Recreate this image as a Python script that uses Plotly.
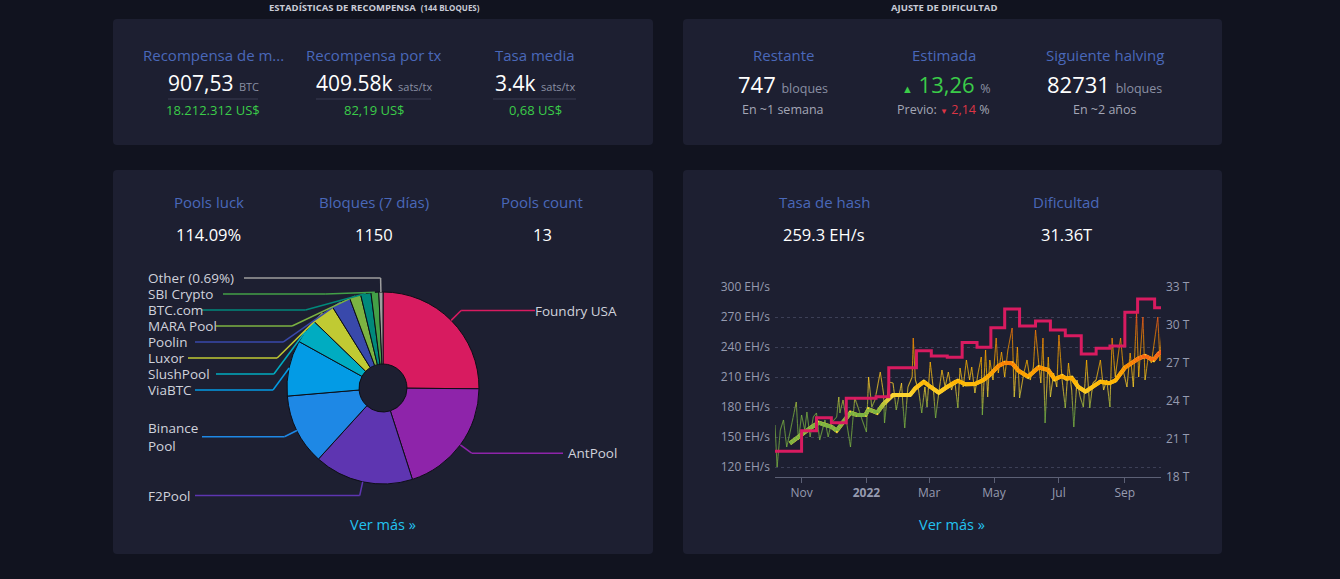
import math
import pandas as pd
import plotly.graph_objects as go

W, H = 1340, 579
FONT = "Open Sans"

# ---------------- data ----------------
reward_titles = ["Recompensa de m...", "Recompensa por tx", "Tasa media"]
reward_values = ["907,53", "409.58k", "3.4k"]
reward_units = ["BTC", "sats/tx", "sats/tx"]
reward_fiat = ["18.212.312 US$", "82,19 US$", "0,68 US$"]

adj_titles = ["Restante", "Estimada", "Siguiente halving"]
adj_remaining = "747"
adj_estimated = "13,26"
adj_previous = "2,14"
adj_halving = "82731"
adj_remaining_eta = "En ~1 semana"
adj_halving_eta = "En ~2 años"

pool_stat_titles = ["Pools luck", "Bloques (7 días)", "Pools count"]
pool_stat_values = ["114.09%", "1150", "13"]

hash_stat_titles = ["Tasa de hash", "Dificultad"]
hash_stat_values = ["259.3 EH/s", "31.36T"]

pool_names = ["Foundry USA", "AntPool", "F2Pool", "Binance<br>Pool", "ViaBTC", "SlushPool",
              "Luxor", "Poolin", "MARA Pool", "BTC.com", "SBI Crypto", "Other (0.69%)"]
pool_blocks = [289, 229, 192, 137, 108, 48, 45, 37, 22, 20, 15, 8]
pool_colors = ["#D81B60", "#8E24AA", "#5E35B1", "#1E88E5", "#039BE5", "#00ACC1",
               "#C0CA33", "#3949AB", "#7CB342", "#00897B", "#43A047", "#9E9E9E"]

hash_start = "2021-10-07"
hash_day = [0, 2, 5, 8, 11, 14, 20, 22, 25, 28, 30, 33, 36, 39, 42, 47, 50, 53, 58, 60, 61, 64, 67, 71,
            75, 78, 82, 86, 88, 91, 94, 99, 102, 103, 107, 111, 114, 119, 120, 122, 125, 129, 130, 132,
            135, 138, 141, 143, 146, 149, 151, 154, 157, 160, 163, 166, 169, 172, 174, 177, 180, 183,
            185, 188, 191, 194, 195, 198, 200, 202, 205, 208, 210, 213, 216, 219, 223, 225, 228, 230,
            234, 237, 240, 243, 245, 248, 250, 252, 254, 257, 259, 262, 265, 267, 270, 273, 276, 279,
            281, 284, 287, 290, 293, 296, 299, 302, 306, 309, 312, 315, 317, 320, 323, 325, 328, 331,
            334, 337, 340, 342, 346, 348, 351, 354, 357, 360, 362, 364]
hash_ehs = [162, 120, 157, 167, 140, 154, 185, 147, 172, 157, 175, 150, 170, 174, 147, 167, 150, 164,
            170, 190, 174, 187, 167, 140, 189, 180, 167, 155, 210, 180, 187, 215, 194, 164, 205, 204,
            177, 204, 187, 159, 200, 210, 249, 207, 197, 174, 200, 180, 225, 197, 169, 194, 217, 200,
            215, 197, 207, 179, 219, 200, 227, 207, 220, 194, 214, 230, 172, 237, 190, 227, 207, 249,
            214, 235, 210, 237, 259, 190, 240, 189, 214, 227, 207, 220, 257, 224, 204, 249, 164, 230,
            190, 214, 200, 252, 207, 179, 224, 197, 160, 207, 190, 180, 227, 179, 204, 207, 227, 197,
            207, 180, 249, 210, 234, 249, 214, 200, 234, 200, 274, 210, 270, 207, 230, 224, 247, 270,
            226, 259.3]

ma_day = [14, 27, 35, 41, 47, 53, 58, 64, 71, 77, 85, 88, 96, 102, 111, 118, 127, 132, 140, 146, 154,
          160, 168, 172, 179, 188, 196, 202, 210, 216, 223, 229, 238, 248, 257, 263, 270, 274, 279, 285,
          292, 298, 306, 314, 320, 329, 336, 342, 348, 356, 361, 364]
ma_ehs = [143.7, 154.3, 160.3, 164.3, 162, 160.3, 156.3, 165.3, 174.3, 172, 172, 177.7, 174.3, 183,
          192, 192, 192, 198.7, 205.3, 200.3, 194.3, 198.7, 204.3, 206.3, 202.7, 203, 207, 212, 221,
          224.3, 223.7, 216.3, 210.3, 219.7, 217, 207.7, 211, 208.3, 209.3, 200.3, 195.3, 199.7, 205.3,
          203.7, 206.3, 219.3, 224.3, 228.7, 231, 227, 233.7, 235.3]

diff_day = [0, 25, 39, 53, 67, 95, 107, 133, 147, 162, 176, 190, 203, 216, 230, 245, 259, 273, 288,
            302, 315, 329, 341, 357, 363]
diff_t = [20.03, 21.66, 22.68, 22.29, 24.21, 24.34, 26.63, 27.97, 27.55, 27.45, 28.61, 28.24, 29.79,
          31.26, 29.92, 30.32, 29.61, 29.16, 27.71, 28.16, 28.34, 31.0, 32.05, 31.37, 31.37]

x_tick_dates = ["2021-11-01", "2022-01-01", "2022-03-01", "2022-05-01", "2022-07-01", "2022-09-01"]
x_tick_text = ["Nov", "<b>2022</b>", "Mar", "May", "Jul", "Sep"]
left_ticks = [120, 150, 180, 210, 240, 270, 300]
right_ticks = [18, 21, 24, 27, 30, 33]

# ---------------- styles ----------------
PAGE_BG = "#11131f"
CARD_BG = "#1d1f31"
BLUE = "#4a68b9"
GREEN = "#3bcc49"
RED = "#dc3545"
GRAY = "#8a8fa3"
LGRAY = "#a3a6b5"
LINK = "#23c3f0"
AXIS_GRAY = "#969bb0"


def px(x):
    return x / W


def py(y):
    return 1 - y / H


annotations = []
shapes = []


def text(x, y, s, size, color, anchor="center", align="center", pad=1):
    annotations.append(dict(x=px(x), y=py(y), xref="paper", yref="paper", text=s, showarrow=False,
                            font=dict(family=FONT, size=size, color=color), xanchor=anchor,
                            yanchor="middle", align=align, borderpad=pad))


def card(x0, y0, x1, y1, r=4):
    rx, ry = r / W, r / H
    X0, X1, Y0, Y1 = px(x0), px(x1), py(y1), py(y0)
    path = (f"M{X0+rx},{Y0} L{X1-rx},{Y0} Q{X1},{Y0} {X1},{Y0+ry} L{X1},{Y1-ry} Q{X1},{Y1} {X1-rx},{Y1} "
            f"L{X0+rx},{Y1} Q{X0},{Y1} {X0},{Y1-ry} L{X0},{Y0+ry} Q{X0},{Y0} {X0+rx},{Y0} Z")
    shapes.append(dict(type="path", path=path, xref="paper", yref="paper", fillcolor=CARD_BG,
                       line=dict(width=0), layer="below"))


def hline(x0, x1, y, color, width=1):
    shapes.append(dict(type="line", xref="paper", yref="paper", x0=px(x0), x1=px(x1), y0=py(y), y1=py(y),
                       line=dict(color=color, width=width)))


def seg(p, q, color, width=1.5):
    shapes.append(dict(type="line", xref="paper", yref="paper", x0=px(p[0]), y0=py(p[1]), x1=px(q[0]),
                       y1=py(q[1]), line=dict(color=color, width=width)))


# cards
card(113, 19, 653, 145)
card(683, 19, 1222, 145)
card(113, 170, 653, 554)
card(683, 170, 1222, 554)

# headers
text(374, 8, "<b>ESTADÍSTICAS DE RECOMPENSA</b>  <b><span style='font-size:8px'>(144 BLOQUES)</span></b>", 9.5, "#c9cbd6")
text(944, 8, "<b>AJUSTE DE DIFICULTAD</b>", 9.5, "#c9cbd6")

# reward card
reward_cx = [213, 374, 535]
reward_line = [(168, 258), (316, 431), (493, 576)]
for i in range(3):
    cx = reward_cx[i]
    text(cx, 55, reward_titles[i], 15, BLUE)
    text(cx, 83, f"{reward_values[i]} <span style='font-size:11px;color:{GRAY}'>{reward_units[i]}</span>", 21, "#ffffff")
    hline(reward_line[i][0], reward_line[i][1], 99, "#3a3d52")
    text(cx, 110.5, reward_fiat[i], 13, GREEN)

# difficulty adjustment card
adj_cx = [783, 944, 1104.5]
for i in range(3):
    text(adj_cx[i], 55, adj_titles[i], 15, BLUE)
text(783, 84, f"{adj_remaining} <span style='font-size:12.5px;color:{GRAY}'>bloques</span>", 22, "#ffffff")
text(783, 110, adj_remaining_eta, 12.5, LGRAY)
text(946, 84, f"<span style='font-size:11px'>▲</span> {adj_estimated} <span style='font-size:12.5px;color:{GRAY}'>%</span>", 22, GREEN)
text(944, 110, f"Previo: <span style='font-size:8px;color:{RED}'>▼</span> <span style='color:{RED}'>{adj_previous}</span> %", 12.5, LGRAY)
text(1104.5, 84, f"{adj_halving} <span style='font-size:12.5px;color:{GRAY}'>bloques</span>", 22, "#ffffff")
text(1104.5, 110, adj_halving_eta, 12.5, LGRAY)

# pools card stats
pool_cx = [208.5, 374, 542]
for i in range(3):
    text(pool_cx[i], 201.5, pool_stat_titles[i], 15, BLUE)
    text(pool_cx[i], 235, pool_stat_values[i], 16.5, "#ffffff")
text(383, 524, "Ver más »", 14.5, LINK)

# hash card stats
hash_cx = [824, 1066]
for i in range(2):
    text(hash_cx[i], 201.5, hash_stat_titles[i], 15, BLUE)
    text(hash_cx[i], 235, hash_stat_values[i], 16.5, "#ffffff")
text(952, 524, "Ver más »", 14.5, LINK)

fig = go.Figure()

# ---------------- pie ----------------
PCX, PCY, PR = 383, 388, 96
fig.add_trace(go.Pie(values=pool_blocks, labels=pool_names, sort=False, direction="clockwise",
                     rotation=0, hole=0.25, textinfo="none", hoverinfo="skip", showlegend=False,
                     marker=dict(colors=pool_colors, line=dict(color="#0d0e16", width=1)),
                     domain=dict(x=[px(PCX - PR), px(PCX + PR)], y=[py(PCY + PR), py(PCY - PR)])))

# leader lines + labels (ECharts-like layout computed from slice angles)
total = float(sum(pool_blocks))
R2 = PR + 14
items = []
acc = 0.0
for name, val, col in zip(pool_names, pool_blocks, pool_colors):
    a0 = acc / total * 2 * math.pi
    acc += val
    a1 = acc / total * 2 * math.pi
    th = (a0 + a1) / 2
    p1 = (PCX + PR * math.sin(th), PCY - PR * math.cos(th))
    p2 = (PCX + R2 * math.sin(th), PCY - R2 * math.cos(th))
    nlines = name.count("<br>") + 1
    items.append(dict(name=name, col=col, p1=p1, p2=p2, left=math.sin(th) < 0, n=nlines, y=p2[1]))

LH = 16
for side in (True, False):
    lst = sorted([it for it in items if it["left"] == side], key=lambda it: it["y"])
    prev_bottom = -1e9
    for it in lst:
        half = it["n"] * LH / 2
        it["y"] = max(it["y"], prev_bottom + half)
        prev_bottom = it["y"] + half

LABEL_SIZE = 13.5
CHAR_W = 7.0
for it in items:
    y = it["y"]
    dy = y - PCY
    dx = math.sqrt(max(R2 * R2 - dy * dy, 0.0))
    longest = max(len(s) for s in it["name"].split("<br>"))
    wtxt = longest * CHAR_W
    if it["left"]:
        p2 = (min(it["p2"][0], PCX - dx), y) if abs(y - it["p2"][1]) > 0.5 else it["p2"]
        x_lab = 147
        seg((x_lab + wtxt + 6, y), p2, it["col"])
        seg(p2, it["p1"], it["col"])
        text(x_lab, y, it["name"], LABEL_SIZE, "#d0d2dc", anchor="left", align="left", pad=0)
    else:
        p2 = it["p2"]
        x_lab = 618
        seg(p2, (x_lab - wtxt - 6, y), it["col"])
        seg(p2, it["p1"], it["col"])
        text(x_lab, y, it["name"], LABEL_SIZE, "#d0d2dc", anchor="right", align="right", pad=0)

# ---------------- hashrate chart ----------------
start = pd.Timestamp(hash_start)


def to_date(d):
    return start + pd.Timedelta(days=d)


STOPS = [(0.0, (244, 81, 30)), (0.25, (251, 140, 0)), (0.5, (255, 179, 0)),
         (0.75, (253, 216, 53)), (1.0, (124, 179, 66))]


def grad(v, vmin, vmax):
    t = (vmax - v) / ((vmax - vmin) * 0.65)
    t = min(max(t, 0.0), 1.0)
    for (o0, c0), (o1, c1) in zip(STOPS[:-1], STOPS[1:]):
        if t <= o1:
            f = (t - o0) / (o1 - o0)
            return tuple(c0[k] + (c1[k] - c0[k]) * f for k in range(3)), t
    return STOPS[-1][1], 1.0


def gradient_traces(days, vals, width, alpha, nbins=40, step=5.0):
    vmin, vmax = min(vals), max(vals)
    bins = {}
    for i in range(len(days) - 1):
        d0, d1, v0, v1 = days[i], days[i + 1], vals[i], vals[i + 1]
        n = max(1, int(math.ceil(abs(v1 - v0) / step)))
        for k in range(n):
            fa, fb = k / n, (k + 1) / n
            da, db = d0 + (d1 - d0) * fa, d0 + (d1 - d0) * fb
            va, vb = v0 + (v1 - v0) * fa, v0 + (v1 - v0) * fb
            _, t = grad((va + vb) / 2, vmin, vmax)
            b = int(round(t * nbins))
            xs, ys = bins.setdefault(b, ([], []))
            xs += [to_date(da), to_date(db), None]
            ys += [va, vb, None]
    traces = []
    for b, (xs, ys) in sorted(bins.items()):
        t = b / nbins
        v = vmax - t * (vmax - vmin) * 0.65
        c, _ = grad(v, vmin, vmax)
        color = f"rgba({int(c[0])},{int(c[1])},{int(c[2])},{alpha})"
        traces.append(go.Scatter(x=xs, y=ys, mode="lines", line=dict(color=color, width=width),
                                 hoverinfo="skip", showlegend=False, xaxis="x", yaxis="y",
                                 connectgaps=False))
    return traces


for tr in gradient_traces(hash_day, hash_ehs, 1.1, 0.72, step=6.0):
    fig.add_trace(tr)

# moving average: base line then gradient pieces
fig.add_trace(go.Scatter(x=[to_date(d) for d in ma_day], y=ma_ehs, mode="lines",
                         line=dict(color="#FDD835", width=4), hoverinfo="skip", showlegend=False))
for tr in gradient_traces(ma_day, ma_ehs, 4, 1.0, step=2.0):
    fig.add_trace(tr)

fig.add_trace(go.Scatter(x=[to_date(d) for d in diff_day], y=diff_t, mode="lines", yaxis="y2",
                         line=dict(color="#D81B60", width=3, shape="hv"), hoverinfo="skip",
                         showlegend=False))

tick_font = dict(family=FONT, size=12, color=AXIS_GRAY)
fig.update_layout(
    width=W, height=H, margin=dict(l=0, r=0, t=0, b=0, autoexpand=False),
    paper_bgcolor=PAGE_BG, plot_bgcolor="rgba(0,0,0,0)",
    showlegend=False, annotations=annotations, shapes=shapes,
    xaxis=dict(domain=[px(775), px(1161)], anchor="y", type="date",
               range=[to_date(0), to_date(363)], showgrid=False, zeroline=False,
               showline=True, linecolor="#5c6075", linewidth=1, ticks="outside", ticklen=5,
               tickcolor="#5c6075", tickvals=[pd.Timestamp(d) for d in x_tick_dates],
               ticktext=x_tick_text, tickfont=tick_font, automargin=False),
    yaxis=dict(domain=[py(477), py(287)], range=[110, 300], tickvals=left_ticks,
               ticktext=[f"{v} EH/s" for v in left_ticks], showgrid=True, gridcolor="#3c3f56",
               griddash="dot", gridwidth=1, zeroline=False, showline=False, ticks="",
               tickfont=tick_font, ticklabelstandoff=4, automargin=False),
    yaxis2=dict(overlaying="y", side="right", anchor="x", range=[18, 33], tickvals=right_ticks,
                ticktext=[f"{v} T" for v in right_ticks], showgrid=False, zeroline=False,
                showline=False, ticks="", tickfont=tick_font, ticklabelstandoff=4, automargin=False),
)

fig.write_html("out.html", config={"displayModeBar": False})
